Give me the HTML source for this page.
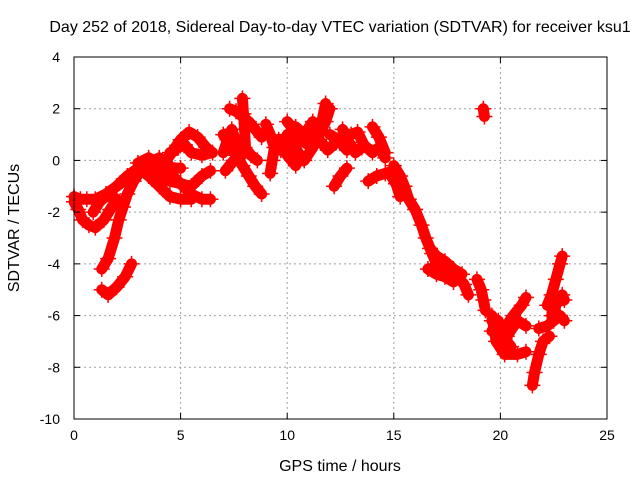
<!DOCTYPE html>
<html><head><meta charset="utf-8"><style>
body{margin:0;background:#fff}
svg text{font-family:"Liberation Sans",sans-serif;font-size:14px;fill:#000}
svg text.big{font-size:16px}
</style></head><body>
<svg id="c" width="640" height="480" xmlns="http://www.w3.org/2000/svg">
<text class="big" x="340" y="32" text-anchor="middle">Day 252 of 2018, Sidereal Day-to-day VTEC variation (SDTVAR) for receiver ksu1</text>
<text class="big" x="340" y="471" text-anchor="middle">GPS time / hours</text>
<text class="big" transform="translate(19,228) rotate(-90)" text-anchor="middle">SDTVAR / TECUs</text>
<g id="grid"></g><g id="data"></g><g id="axes"></g>
</svg>
<script>
const xTicks=[0,5,10,15,20,25];
const yTicks=[4,2,0,-2,-4,-6,-8,-10];
const tracks=[
[[0,-1.4],[0.3,-1.5],[0.6,-1.5],[1.0,-1.5],[1.5,-1.3],[2.0,-1.0],[2.5,-0.7],[3.0,-0.4],[3.5,-0.1],[4.0,0.1],[4.4,-0.1]],
[[0,-1.6],[0.2,-1.9],[0.4,-2.3],[0.7,-2.5],[1.0,-2.6],[1.4,-2.3],[1.7,-1.9],[2.0,-1.5],[1.6,-1.3],[1.2,-1.6],[0.9,-2.0]],
[[1.3,-4.2],[1.6,-3.8],[1.9,-3.0],[2.1,-2.3],[2.3,-1.8],[2.5,-1.3],[2.8,-0.8],[3.2,-0.3],[3.5,0.0],[4.0,-0.2],[4.5,-0.5],[5.0,-0.9],[5.5,-1.3],[6.0,-1.5],[6.4,-1.5]],
[[1.3,-5.0],[1.6,-5.2],[2.0,-4.9],[2.4,-4.5],[2.7,-4.0]],
[[4.0,-0.3],[4.5,0.2],[5.0,0.8],[5.4,1.1],[5.8,0.9],[6.2,0.5],[6.5,0.3],[6.0,0.2],[5.5,0.3],[5.2,0.6],[4.9,0.5],[4.5,0.3]],
[[3.5,-0.3],[4.0,-0.6],[4.5,-0.8],[5.0,-0.9],[5.5,-1.0],[6.0,-0.6],[6.4,-0.4]],
[[2.0,-1.0],[2.5,-0.6],[3.0,-0.3],[3.5,-0.6],[4.0,-1.0],[4.5,-1.4],[5.0,-1.5],[5.5,-1.5]],
[[3.0,-0.1],[3.5,0.1],[4.0,-0.1],[4.5,-0.3],[5.0,-0.3]],
[[7.0,1.0],[7.3,0.6],[7.6,0.2],[7.9,-0.2],[8.2,-0.6],[8.5,-1.0],[8.8,-1.3]],
[[7.3,2.0],[7.6,1.9],[7.9,1.7],[8.2,1.5],[8.5,1.2],[8.8,0.9]],
[[7.1,-0.4],[7.5,0.0],[8.0,0.5],[8.3,0.2],[8.6,0.0]],
[[7.9,2.4],[7.95,1.8],[8.0,1.2],[8.05,0.4]],
[[7.0,0.3],[7.2,0.8],[7.4,1.2],[7.6,0.7],[7.8,0.1]],
[[9.0,1.4],[9.2,1.0],[9.4,0.5],[9.3,0.0],[9.2,-0.5]],
[[9.4,0.8],[9.7,0.4],[10.0,1.0],[10.3,0.6],[10.6,0.2]],
[[10.0,1.5],[10.3,1.2],[10.6,0.8],[11.0,0.6],[11.3,1.0],[11.6,1.4],[11.8,2.2]],
[[9.6,0.8],[10.0,0.2],[10.4,-0.2]],
[[10.8,0.0],[11.2,0.5],[11.5,1.0],[11.8,1.5],[12.0,2.0]],
[[10.4,1.3],[10.8,1.0],[11.2,1.5],[11.5,0.8],[11.9,0.4],[12.3,0.7]],
[[12.2,-1.0],[12.5,-0.6],[12.8,-0.3]],
[[12.0,1.0],[12.4,0.8],[12.8,0.4]],
[[12.6,1.2],[12.9,0.7],[13.2,0.3],[13.5,0.5]],
[[13.0,1.0],[13.3,1.1],[13.6,0.6],[14.0,0.3],[14.3,0.5],[14.6,0.1]],
[[14.0,1.3],[14.3,0.9],[14.6,0.3]],
[[13.8,-0.8],[14.2,-0.6],[14.6,-0.5],[15.0,-0.4]],
[[15.0,-0.2],[15.3,-0.6],[15.5,-1.0],[15.7,-1.5],[16.0,-1.9],[16.3,-2.5],[16.5,-3.0],[16.8,-3.6],[17.0,-4.0],[17.3,-4.2],[17.6,-4.3],[18.0,-4.5],[18.3,-4.8],[18.5,-5.2]],
[[14.8,-0.5],[15.1,-0.9],[15.3,-1.4]],
[[16.7,-3.4],[17.0,-3.7],[17.4,-3.9],[17.8,-4.2],[18.2,-4.4]],
[[16.6,-4.2],[17.0,-4.4],[17.4,-4.5],[17.8,-4.7]],
[[18.9,-4.6],[19.1,-5.0],[19.2,-5.4],[19.3,-5.8]],
[[19.6,-6.0],[19.8,-7.0],[20.2,-7.5],[20.8,-7.5],[21.2,-7.4]],
[[19.6,-6.2],[20.2,-6.5],[20.6,-6.0],[21.0,-5.6],[21.2,-5.3]],
[[20.3,-6.8],[20.8,-6.2],[21.2,-6.4]],
[[19.6,-6.6],[19.9,-6.2],[20.2,-6.9],[20.5,-7.2]],
[[21.8,-6.5],[22.2,-6.4],[22.5,-6.2],[22.8,-6.0],[23.0,-6.2]],
[[22.2,-5.6],[22.4,-5.2],[22.6,-4.6],[22.8,-4.0],[22.9,-3.7]],
[[22.4,-6.0],[22.6,-5.6],[22.9,-5.2],[23.0,-5.4]],
[[21.5,-8.7],[21.6,-8.2],[21.8,-7.5],[22.0,-7.0],[22.3,-6.8]],
[[19.2,2.0],[19.25,1.7]]
];
const L=74,R=607,T=57,B=419;
const X=v=>L+(v-0)/25*(R-L);
const Y=v=>T+(4-v)/14*(B-T);
const NS="http://www.w3.org/2000/svg";
function mk(tag,attrs,parent){const e=document.createElementNS(NS,tag);for(const k in attrs)e.setAttribute(k,attrs[k]);parent.appendChild(e);return e;}
const grid=document.getElementById('grid'),axes=document.getElementById('axes'),data=document.getElementById('data');
xTicks.forEach(t=>{
 if(t>0&&t<25){const g=mk('line',{x1:X(t),x2:X(t),y1:T,y2:B,stroke:'#a0a0a0','stroke-dasharray':'2,3'},grid);
 
 }
 mk('line',{x1:X(t),x2:X(t),y1:B,y2:B-6,stroke:'#000'},axes);
 mk('line',{x1:X(t),x2:X(t),y1:T,y2:T+6,stroke:'#000'},axes);
 const tx=mk('text',{x:X(t),y:B+21,'text-anchor':'middle'},axes);tx.textContent=t;
 
 
});
yTicks.forEach(t=>{
 if(t<4&&t>-10){const g=mk('line',{x1:L,x2:R,y1:Y(t),y2:Y(t),stroke:'#a0a0a0','stroke-dasharray':'2,3'},grid);
 
 }
 mk('line',{x1:L,x2:L+6,y1:Y(t),y2:Y(t),stroke:'#000'},axes);
 mk('line',{x1:R,x2:R-6,y1:Y(t),y2:Y(t),stroke:'#000'},axes);
 const tx=mk('text',{x:L-14,y:Y(t)+5,'text-anchor':'end'},axes);tx.textContent=t;
 
 
});
const box=mk('rect',{x:L,y:T,width:R-L,height:B-T,fill:'none',stroke:'#000'},axes);


tracks.forEach(tr=>{
 const pl=mk('polyline',{points:tr.map(p=>X(p[0])+','+Y(p[1])).join(' '),fill:'none',stroke:'#f00','stroke-width':11,'stroke-linejoin':'round','stroke-linecap':'round'},data);
 
 
 let d='';tr.forEach(p=>{const x=X(p[0]),y=Y(p[1]);d+=`M${x-8},${y}h16M${x},${y-8}v16`;});
 const m=mk('path',{d:d,stroke:'#f00','stroke-width':1.5,fill:'none'},data);
 
 
});
</script>
</body></html>
